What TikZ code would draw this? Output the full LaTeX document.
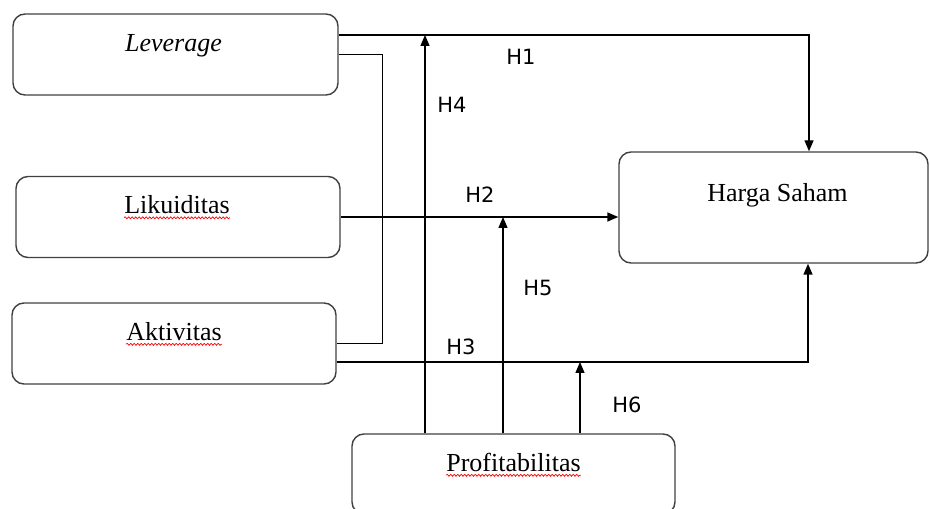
\documentclass[tikz,border=0pt]{standalone}
\usepackage{fontspec}
\setmainfont{Liberation Serif}
\newfontfamily\hypfont{DejaVu Sans}
\usepackage{xcolor}
\usepackage{tikz}
\usetikzlibrary{shapes,arrows.meta,positioning,decorations.pathmorphing}

\begin{document}
\begin{tikzpicture}[
        x=1pt, y=1pt,
        var/.style={draw=black!75, line width=1.4pt, rounded corners=12pt, minimum height=81pt, inner sep=0pt},
        vartext/.style={font=\fontsize{26}{30}\selectfont, inner sep=0pt, anchor=base},
        hyp/.style={font=\hypfont\fontsize{21}{25}\selectfont, inner sep=0pt},
        link/.style={line width=1.4pt},
        arr/.style={link, -{Triangle[length=11pt,width=9pt]}},
        spell/.style={red, line width=0.7pt, decorate, decoration={snake, amplitude=1pt, segment length=3.5pt}}
    ]
                \useasboundingbox (0,0) rectangle (930,509);

                % variables
                \node[var, minimum width=325pt] (lev) at (175.5,454.5) {};
                \node[var, minimum width=324pt] (liq) at (178,292) {};
                \node[var, minimum width=324pt] (akt) at (174,165.5) {};
                \node[var, minimum width=309pt, minimum height=111pt] (hrg) at (773.5,301.5) {};
                \node[var, minimum width=323pt, minimum height=80pt] (pro) at (513.5,35) {};

                \node[vartext] (levt) at ([xshift=-2pt, yshift=-38pt]lev.north) {\textit{Leverage}};
                \node[vartext] (liqt) at ([xshift=-1pt, yshift=-38pt]liq.north) {Likuiditas};
                \node[vartext] (aktt) at ([yshift=-38pt]akt.north) {Aktivitas};
                \node[vartext] (hrgt) at ([xshift=4pt, yshift=-50pt]hrg.north) {Harga Saham};
                \node[vartext] (prot) at ([yshift=-38pt]pro.north) {Profitabilitas};

                \draw[spell] ([yshift=-4pt]liqt.base west) -- ([yshift=-4pt]liqt.base east);
                \draw[spell] ([yshift=-4pt]aktt.base west) -- ([yshift=-4pt]aktt.base east);
                \draw[spell] ([yshift=-4pt]prot.base west) -- ([yshift=-4pt]prot.base east);

                % paths
                \coordinate (h1s) at ([yshift=19.5pt]lev.east);
                \coordinate (h3s) at ([yshift=-18.5pt]akt.east);
                \draw[arr] (h1s) -| ([xshift=35.5pt]hrg.north);
                \draw[link] (lev.east) -- ++(44,0) |- (akt.east);
                \draw[arr] (liq.east) -- (liq.east -| hrg.west);
                \draw[arr] (h3s) -| ([xshift=34.5pt]hrg.south);

                % moderation
                \coordinate (p4) at ([xshift=-88.5pt]pro.north);
                \coordinate (p5) at ([xshift=-10.5pt]pro.north);
                \coordinate (p6) at ([xshift=66.5pt]pro.north);
                \draw[arr] (p4) -- (p4 |- h1s);
                \draw[arr] (p5) -- (p5 |- liq.east);
                \draw[arr] (p6) -- (p6 |- h3s);

                % hypotheses
                \node[hyp] (h1) at (521,452) {H1};
                \node[hyp] (h4) at (452,404) {H4};
                \node[hyp] (h2) at (480,314) {H2};
                \node[hyp] (h5) at (538,221) {H5};
                \node[hyp] (h3) at (461,162) {H3};
                \node[hyp] (h6) at (627,104) {H6};

\end{tikzpicture}
\end{document}
